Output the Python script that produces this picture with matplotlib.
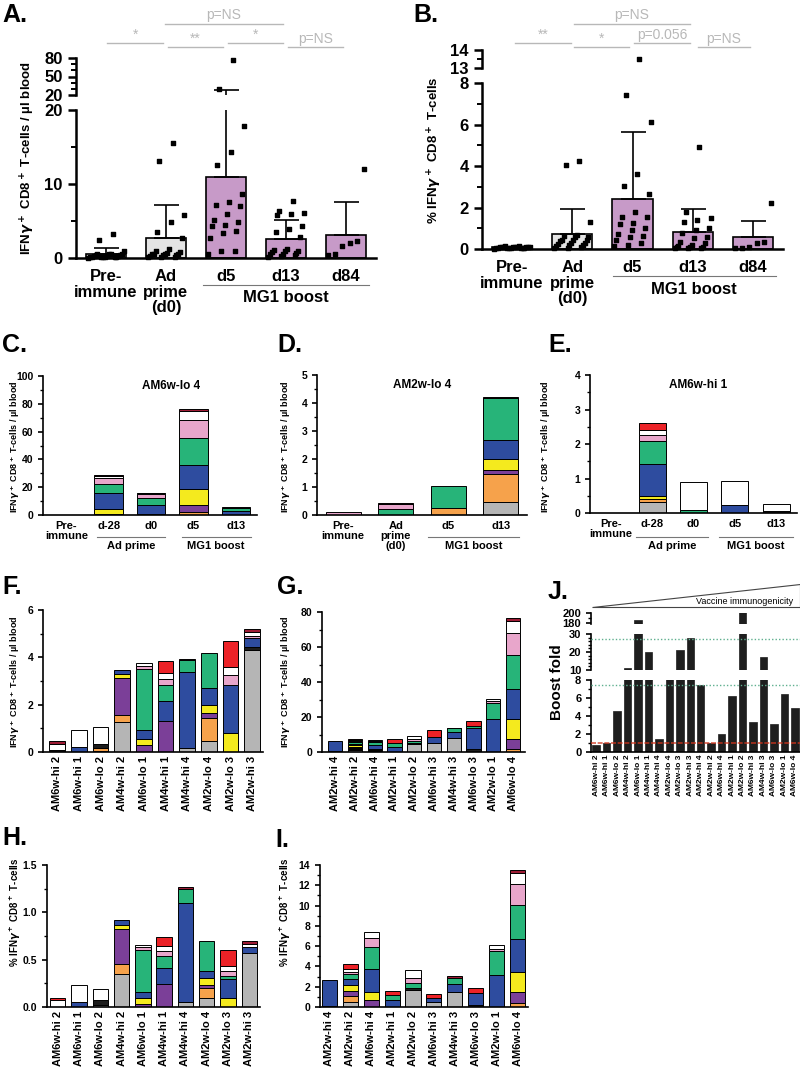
import numpy as np
import matplotlib.pyplot as plt
from matplotlib.ticker import MultipleLocator
from matplotlib.transforms import blended_transform_factory as blend
from matplotlib.patches import Polygon

plt.rcParams['font.family'] = ['Liberation Sans', 'DejaVu Sans']
plt.rcParams['font.weight'] = 'bold'
plt.rcParams['mathtext.fontset'] = 'dejavusans'

# ---------------- data: panels A / B ----------------
ab_groups = ['Pre-\nimmune', 'Ad\nprime\n(d0)', 'd5', 'd13', 'd84']
ab_colors = ['#e4e4e4', '#e4e4e4', '#c79ac8', '#c79ac8', '#c79ac8']

a_mean = [0.5, 2.7, 11.0, 2.6, 3.1]
a_err_top = [1.4, 7.1, 28.5, 5.2, 7.6]
a_pts = [
    [3.3, 2.4, 1.0, 0.6, 0.5, 0.4, 0.3, 0.3, 0.2, 0.2, 0.1, 0.1, 0.05, 0.5, 0.4, 0.2, 0.6, 0.3, 0.1, 0.2],
    [15.5, 13.1, 5.8, 4.8, 3.5, 2.7, 1.2, 1.0, 0.8, 0.7, 0.6, 0.5, 0.4, 0.3, 0.2, 0.1, 0.6, 0.4, 0.2, 0.5],
    [77, 29, 17.8, 14.3, 12.6, 8.7, 7.6, 7.1, 7.0, 6.0, 5.1, 4.8, 4.4, 4.3, 3.7, 3.4, 2.7, 1.0, 0.9, 0.5],
    [7.7, 6.3, 6.1, 5.9, 5.8, 4.3, 3.9, 3.5, 2.9, 1.2, 1.1, 1.0, 0.9, 0.8, 0.7, 0.6, 0.5, 0.4, 0.3, 0.2],
    [12.0, 2.3, 2.0, 1.6, 0.6, 0.4],
]

b_mean = [0.08, 0.72, 2.4, 0.83, 0.57]
b_err_top = [0.12, 1.93, 5.65, 1.95, 1.37]
b_pts = [
    [0.15, 0.12, 0.1, 0.1, 0.08, 0.07, 0.05, 0.05, 0.04, 0.03, 0.12, 0.15, 0.1, 0.06, 0.02, 0.08, 0.09, 0.05, 0.11, 0.03],
    [4.25, 4.05, 1.3, 0.68, 0.65, 0.6, 0.45, 0.45, 0.45, 0.4, 0.3, 0.25, 0.2, 0.2, 0.15, 0.1, 0.05, 0.05, 0.6, 0.3],
    [13.5, 7.4, 6.1, 3.6, 3.05, 2.65, 1.8, 1.55, 1.55, 1.25, 1.2, 1.0, 0.9, 0.7, 0.65, 0.6, 0.45, 0.3, 0.2, 0.15],
    [4.9, 1.8, 1.5, 1.4, 1.3, 1.0, 0.9, 0.75, 0.6, 0.55, 0.35, 0.3, 0.15, 0.1, 0.1, 0.05, 0.05, 0.05, 0.1, 0.2],
    [2.2, 0.35, 0.3, 0.1, 0.05, 0.05],
]

# ---------------- data: stacked epitope bars ----------------
# rows: gray, orange, black, purple, yellow, blue, green, pink, white, red, dark red
seg_colors = ['#b5b5b5', '#f6a24b', '#1c1c1c', '#7b3f98', '#f4ea1e', '#2e4c9f',
              '#27b479', '#e8a6cb', '#ffffff', '#ec2227', '#9d1c35']

c_labels = ['Pre-\nimmune', 'd-28', 'd0', 'd5', 'd13']
c_seg = [
    [0, 0, 0, 0, 0],
    [0, 1.0, 0, 2.0, 0],
    [0, 0, 1.0, 0, 0],
    [0, 0, 0, 5.5, 0],
    [0, 3.5, 0, 11.5, 0],
    [0, 11.0, 6.0, 17.0, 3.0],
    [0, 7.0, 5.5, 19.5, 2.0],
    [0, 4.0, 2.5, 12.5, 1.0],
    [0, 1.5, 0.5, 7.0, 0],
    [0, 0, 0, 0, 0],
    [0, 0.5, 0.5, 1.5, 0],
]

d_labels = ['Pre-\nimmune', 'Ad\nprime\n(d0)', 'd5', 'd13']
d_seg = [
    [0, 0, 0, 0.45],
    [0, 0, 0.25, 1.0],
    [0, 0, 0, 0],
    [0, 0, 0, 0.15],
    [0, 0, 0, 0.4],
    [0, 0, 0, 0.67],
    [0, 0.2, 0.78, 1.5],
    [0.12, 0.2, 0, 0],
    [0, 0, 0, 0],
    [0, 0, 0, 0],
    [0, 0.02, 0, 0.05],
]

e_labels = ['Pre-\nimmune', 'd-28', 'd0', 'd5', 'd13']
e_seg = [
    [0, 0.32, 0, 0, 0],
    [0, 0.1, 0, 0, 0],
    [0, 0, 0, 0, 0.05],
    [0, 0, 0, 0, 0],
    [0, 0.08, 0, 0, 0],
    [0, 0.92, 0, 0.22, 0],
    [0, 0.66, 0.1, 0, 0],
    [0, 0.17, 0, 0, 0],
    [0, 0.17, 0.8, 0.7, 0.22],
    [0, 0.18, 0, 0, 0],
    [0, 0, 0, 0, 0],
]

fh_labels = ['AM6w-hi 2', 'AM6w-hi 1', 'AM6w-lo 2', 'AM4w-hi 2', 'AM6w-lo 1',
             'AM4w-hi 1', 'AM4w-hi 4', 'AM2w-lo 4', 'AM2w-lo 3', 'AM2w-hi 3']
f_seg = [
    [0, 0, 0.05, 1.25, 0, 0, 0.18, 0.45, 0, 4.3],
    [0, 0, 0.12, 0.32, 0, 0, 0, 1.0, 0, 0],
    [0.07, 0, 0.18, 0, 0, 0, 0, 0, 0, 0.12],
    [0, 0, 0, 1.55, 0.28, 1.3, 0, 0.2, 0, 0],
    [0, 0, 0, 0.18, 0.27, 0, 0, 0.35, 0.8, 0],
    [0, 0.22, 0, 0.15, 0.4, 0.85, 3.2, 0.7, 2.05, 0.38],
    [0, 0, 0, 0, 2.55, 0.68, 0.5, 1.5, 0, 0],
    [0, 0, 0, 0, 0.15, 0.27, 0, 0, 0.4, 0.12],
    [0.28, 0.7, 0.72, 0, 0.12, 0.25, 0, 0, 0.33, 0.13],
    [0, 0, 0, 0, 0, 0.5, 0, 0, 1.12, 0],
    [0.13, 0, 0, 0, 0, 0, 0.05, 0, 0, 0.15],
]
h_seg = [
    [0, 0, 0.02, 0.35, 0, 0, 0.05, 0.09, 0, 0.57],
    [0, 0, 0, 0.1, 0, 0, 0, 0.11, 0, 0],
    [0, 0, 0.05, 0, 0, 0, 0, 0, 0, 0],
    [0, 0, 0, 0.37, 0.03, 0.24, 0, 0.03, 0, 0],
    [0, 0, 0, 0.05, 0.06, 0, 0, 0.08, 0.1, 0],
    [0, 0.05, 0, 0.05, 0.07, 0.17, 1.05, 0.07, 0.2, 0.06],
    [0, 0, 0, 0, 0.44, 0.13, 0.15, 0.32, 0.03, 0],
    [0, 0, 0, 0, 0.03, 0.05, 0, 0, 0.05, 0],
    [0.07, 0.18, 0.12, 0, 0.03, 0.05, 0, 0, 0.05, 0.04],
    [0.03, 0, 0, 0, 0, 0.1, 0, 0, 0.17, 0],
    [0, 0, 0, 0, 0, 0, 0.02, 0, 0, 0.03],
]

gi_labels = ['AM2w-hi 4', 'AM2w-hi 2', 'AM6w-hi 4', 'AM2w-hi 1', 'AM2w-lo 2',
             'AM6w-hi 3', 'AM4w-hi 3', 'AM6w-lo 3', 'AM2w-lo 1', 'AM6w-lo 4']
g_seg = [
    [0, 1.0, 0, 0, 4.5, 5.0, 8.0, 0, 0, 0],
    [0, 0.8, 0, 0, 0, 0, 0, 0, 0, 2.0],
    [0.3, 0.5, 0.5, 0, 0.5, 0, 0, 1.5, 0, 0],
    [0, 0.7, 0.7, 0, 0, 0, 0, 0, 0, 5.5],
    [0, 0.8, 0.6, 0, 0, 0, 0, 0, 0, 11.5],
    [5.7, 1.0, 2.3, 3.0, 0, 3.5, 3.5, 12.5, 19.0, 17.0],
    [0, 0.8, 1.5, 2.0, 1.5, 0, 2.0, 1.0, 9.0, 19.5],
    [0, 0.6, 0.7, 0, 1.2, 0, 0, 0, 1.0, 12.5],
    [0, 0.4, 0.5, 0, 1.2, 0, 0, 0, 1.5, 7.0],
    [0, 0.6, 0, 2.5, 0, 4.0, 0, 3.0, 0, 0],
    [0, 0, 0, 0, 0, 0, 0.5, 0, 0, 1.5],
]
i_seg = [
    [0, 0.5, 0, 0, 1.7, 0.45, 1.45, 0, 0, 0],
    [0, 0.6, 0, 0, 0, 0, 0, 0, 0, 0.35],
    [0.1, 0, 0, 0, 0.2, 0, 0, 0.2, 0, 0],
    [0, 0.45, 0.7, 0, 0, 0, 0, 0, 0, 1.15],
    [0, 0.6, 0.8, 0, 0, 0, 0, 0, 0, 2.0],
    [2.55, 0.6, 2.2, 0.7, 0, 0.45, 0.8, 1.2, 3.15, 3.25],
    [0, 0.5, 2.2, 0.5, 0.5, 0, 0.6, 0, 2.4, 3.3],
    [0, 0.25, 0.95, 0, 0.5, 0, 0, 0, 0.15, 2.1],
    [0, 0.25, 0.55, 0, 0.75, 0, 0, 0, 0.45, 1.1],
    [0, 0.5, 0, 0.35, 0, 0.4, 0, 0.45, 0, 0],
    [0, 0, 0, 0, 0, 0, 0.2, 0, 0, 0.3],
]

# ---------------- data: panel J ----------------
j_labels = ['AM6w-hi 2', 'AM6w-hi 1', 'AM6w-lo 2', 'AM4w-hi 2', 'AM6w-lo 1',
            'AM4w-hi 1', 'AM4w-hi 4', 'AM2w-lo 4', 'AM2w-lo 3', 'AM2w-hi 3',
            'AM2w-hi 4', 'AM2w-hi 2', 'AM6w-hi 4', 'AM2w-hi 1', 'AM2w-lo 2',
            'AM6w-hi 3', 'AM4w-hi 3', 'AM6w-lo 3', 'AM2w-lo 1', 'AM6w-lo 4']
j_fold = [0.8, 1.0, 4.6, 11.0, 185, 20.0, 1.5, 9.0, 21.0, 28.0,
          7.4, 1.0, 2.05, 6.2, 205, 3.3, 17.5, 3.1, 6.4, 4.9]
j_green_lines = [27.0, 7.4]
j_red_line = 1.0

ylab_abs = r'IFN$\gamma^+$ CD8$^+$ T-cells / µl blood'
ylab_pct = r'% IFN$\gamma^+$ CD8$^+$ T-cells'

# ---------------- layout helpers ----------------
W, H = 800, 1071
fig = plt.figure(figsize=(W / 100, H / 100), dpi=100)


def box(l, t, r, b):
    return [l / W, 1 - b / H, (r - l) / W, (b - t) / H]


def fy(py):
    return 1 - py / H


def style(ax, lw=1.2, fs=7.5):
    for s in ['top', 'right']:
        ax.spines[s].set_visible(False)
    for s in ['left', 'bottom']:
        ax.spines[s].set_linewidth(lw)
    ax.tick_params(labelsize=fs, width=lw, length=3.5)
    ax.tick_params(which='minor', width=lw * 0.8, length=2)


def stacked(ax, seg, width):
    n = len(seg[0])
    x = np.arange(n)
    base = np.zeros(n)
    for vals, col in zip(seg, seg_colors):
        v = np.asarray(vals, float)
        m = v > 0
        ax.bar(x[m], v[m], width, bottom=base[m], color=col,
               edgecolor='black', linewidth=0.7)
        base += v
    return x


def group_line(ax, x0, x1, ly, ty, text, fs):
    tr = blend(ax.transData, fig.transFigure)
    ax.plot([x0, x1], [fy(ly), fy(ly)], color='#777777', lw=0.8,
            transform=tr, clip_on=False)
    ax.text((x0 + x1) / 2, fy(ty), text, transform=tr, ha='center',
            va='center', fontsize=fs)


def sig(ax, x0, x1, ly, text):
    tr = blend(ax.transData, fig.transFigure)
    ax.plot([x0, x1], [fy(ly), fy(ly)], color='#b8b8b8', lw=1.0,
            transform=tr, clip_on=False)
    ax.text((x0 + x1) / 2, fy(ly - 1.5), text, transform=tr, ha='center',
            va='bottom', fontsize=10, color='#b8b8b8', fontweight='normal')


def spread(vals, w=0.3):
    n = len(vals)
    order = np.argsort(vals)
    off = np.zeros(n)
    for k, idx in enumerate(order):
        off[idx] = w * (((k * 7) % n) / max(n - 1, 1) * 2 - 1)
    return off


def dot_panel(ax_lo, ax_hi, means, err_top, pts, lo_max, hi_min):
    x = np.arange(len(means))
    for ax in (ax_lo, ax_hi):
        ax.bar(x, means, 0.67, color=ab_colors, edgecolor='black', linewidth=1.2)
        ax.errorbar(x, means, yerr=[np.zeros(len(means)), np.array(err_top) - np.array(means)],
                    fmt='none', ecolor='black', elinewidth=1.2, capsize=9, capthick=1.2)
        ax.set_xlim(-0.5, 4.5)
    for i, vals in enumerate(pts):
        v = np.asarray(vals, float)
        xo = i + spread(v)
        lo = v <= lo_max * 1.02
        hi = v >= hi_min
        ax_lo.scatter(xo[lo], v[lo], marker='s', s=8, color='black', zorder=5, clip_on=False)
        ax_hi.scatter(xo[hi], v[hi], marker='s', s=8, color='black', zorder=5, clip_on=False)
    for s in ['top', 'right']:
        ax_lo.spines[s].set_visible(False)
    for s in ['top', 'right', 'bottom']:
        ax_hi.spines[s].set_visible(False)
    for ax in (ax_lo, ax_hi):
        ax.spines['left'].set_linewidth(1.8)
        ax.tick_params(labelsize=12, width=1.8, length=6)
        ax.tick_params(which='minor', width=1.4, length=3.5)
    ax_lo.spines['bottom'].set_linewidth(1.8)
    ax_hi.set_xticks([])
    ax_lo.set_xticks(x, ab_groups, fontsize=12, linespacing=1.05)
    ax_lo.tick_params(axis='x', length=0, pad=8)


# ---------------- panel A ----------------
axA = fig.add_axes(box(76, 110, 376, 258))
axA2 = fig.add_axes(box(76, 58, 376, 95))
axA.set_ylim(0, 20)
axA2.set_ylim(20, 80)
dot_panel(axA, axA2, a_mean, a_err_top, a_pts, 20, 20)
axA.set_yticks([0, 10, 20])
axA.yaxis.set_minor_locator(MultipleLocator(5))
axA2.set_yticks([20, 50, 80])
axA2.yaxis.set_minor_locator(MultipleLocator(10))
group_line(axA, 1.62, 4.38, 285, 298, 'MG1 boost', 12)
sig(axA, 0.02, 0.95, 43, '*')
sig(axA, 1.03, 1.95, 47, '**')
sig(axA, 2.03, 2.95, 43, '*')
sig(axA, 3.03, 3.95, 47, 'p=NS')
sig(axA, 0.98, 2.95, 24, 'p=NS')
fig.text(28 / W, fy(158), ylab_abs, rotation=90, ha='center', va='center', fontsize=9.5)

# ---------------- panel B ----------------
axB = fig.add_axes(box(482, 83, 783, 249))
axB2 = fig.add_axes(box(482, 50, 783, 68))
axB.set_ylim(0, 8)
axB2.set_ylim(13, 14)
dot_panel(axB, axB2, b_mean, b_err_top, b_pts, 8, 13)
axB.set_yticks([0, 2, 4, 6, 8])
axB.yaxis.set_minor_locator(MultipleLocator(1))
axB2.set_yticks([13, 14])
axB2.yaxis.set_minor_locator(MultipleLocator(0.5))
group_line(axB, 1.67, 4.38, 276, 290, 'MG1 boost', 12)
sig(axB, 0.05, 0.98, 43, '**')
sig(axB, 1.03, 1.95, 47, '*')
sig(axB, 2.03, 2.95, 43, 'p=0.056')
sig(axB, 3.08, 3.95, 47, 'p=NS')
sig(axB, 1.03, 2.95, 24, 'p=NS')
fig.text(435 / W, fy(150), ylab_pct, rotation=90, ha='center', va='center', fontsize=9.5)

# ---------------- panels C, D, E ----------------
axC = fig.add_axes(box(43, 376, 257, 515))
stacked(axC, c_seg, 0.67)
axC.set_xlim(-0.55, 4.5)
axC.set_ylim(0, 100)
axC.yaxis.set_major_locator(MultipleLocator(20))
axC.yaxis.set_minor_locator(MultipleLocator(10))
axC.text(0.6, 0.93, 'AM6w-lo 4', transform=axC.transAxes, ha='center', va='center', fontsize=8.5)
group_line(axC, 0.72, 2.32, 537, 546, 'Ad prime', 8)
group_line(axC, 2.72, 4.35, 537, 546, 'MG1 boost', 8)

axD = fig.add_axes(box(317, 375, 527, 515))
stacked(axD, d_seg, 0.67)
axD.set_xlim(-0.5, 3.5)
axD.set_ylim(0, 5)
axD.yaxis.set_major_locator(MultipleLocator(1))
axD.yaxis.set_minor_locator(MultipleLocator(0.5))
axD.text(0.5, 0.93, 'AM2w-lo 4', transform=axD.transAxes, ha='center', va='center', fontsize=8.5)
group_line(axD, 1.62, 3.35, 537, 546, 'MG1 boost', 8)

axE = fig.add_axes(box(590, 375, 797, 513))
stacked(axE, e_seg, 0.65)
axE.set_xlim(-0.5, 4.5)
axE.set_ylim(0, 4)
axE.yaxis.set_major_locator(MultipleLocator(1))
axE.yaxis.set_minor_locator(MultipleLocator(0.5))
axE.text(0.52, 0.93, 'AM6w-hi 1', transform=axE.transAxes, ha='center', va='center', fontsize=8.5)
group_line(axE, 0.62, 2.35, 537, 546, 'Ad prime', 8)
group_line(axE, 2.62, 4.4, 537, 546, 'MG1 boost', 8)

for ax, labs in ((axC, c_labels), (axD, d_labels), (axE, e_labels)):
    style(ax)
    ax.set_xticks(range(len(labs)), labs, fontsize=8, linespacing=1.0)
    ax.tick_params(axis='x', length=0, pad=4)

fig.text(15 / W, fy(447), ylab_abs, rotation=90, ha='center', va='center', fontsize=6.5)
fig.text(286 / W, fy(447), ylab_abs, rotation=90, ha='center', va='center', fontsize=6.5)
fig.text(546 / W, fy(447), ylab_abs, rotation=90, ha='center', va='center', fontsize=6.5)

# ---------------- panels F, G, H, I ----------------
axF = fig.add_axes(box(43, 610, 263, 752))
stacked(axF, f_seg, 0.72)
axF.set_xlim(-0.66, 9.5)
axF.set_ylim(0, 6)
axF.yaxis.set_major_locator(MultipleLocator(2))
axF.yaxis.set_minor_locator(MultipleLocator(1))

axG = fig.add_axes(box(322, 612, 525, 752))
stacked(axG, g_seg, 0.72)
axG.set_xlim(-0.66, 9.6)
axG.set_ylim(0, 80)
axG.yaxis.set_major_locator(MultipleLocator(20))
axG.yaxis.set_minor_locator(MultipleLocator(10))

axH = fig.add_axes(box(47, 865, 260, 1007))
stacked(axH, h_seg, 0.72)
axH.set_xlim(-0.5, 9.5)
axH.set_ylim(0, 1.5)
axH.yaxis.set_major_locator(MultipleLocator(0.5))
axH.yaxis.set_minor_locator(MultipleLocator(0.25))
axH.yaxis.set_major_formatter('{x:.1f}')

axI = fig.add_axes(box(320, 865, 528, 1007))
stacked(axI, i_seg, 0.72)
axI.set_xlim(-0.45, 9.5)
axI.set_ylim(0, 14)
axI.yaxis.set_major_locator(MultipleLocator(2))
axI.yaxis.set_minor_locator(MultipleLocator(1))

for ax, labs in ((axF, fh_labels), (axG, gi_labels), (axH, fh_labels), (axI, gi_labels)):
    style(ax)
    ax.set_xticks(range(len(labs)), labs, rotation=90, fontsize=8)
    ax.tick_params(axis='x', length=0, pad=3)

fig.text(15 / W, fy(682), ylab_abs, rotation=90, ha='center', va='center', fontsize=6.5)
fig.text(286 / W, fy(682), ylab_abs, rotation=90, ha='center', va='center', fontsize=6.5)
fig.text(15 / W, fy(912), ylab_pct, rotation=90, ha='center', va='center', fontsize=7)
fig.text(285 / W, fy(912), ylab_pct, rotation=90, ha='center', va='center', fontsize=7)

# ---------------- panel J ----------------
axJ = fig.add_axes(box(591, 680, 800, 752))
axJ2 = fig.add_axes(box(591, 634, 800, 670))
axJ3 = fig.add_axes(box(591, 612.7, 800, 624))
xj = np.arange(len(j_fold))
for ax, lim in ((axJ, (0, 8)), (axJ2, (10, 30)), (axJ3, (177, 200))):
    ax.bar(xj, j_fold, 0.72, color='#1e1e1e', edgecolor='#1e1e1e', linewidth=0.5)
    ax.set_ylim(*lim)
    ax.set_xlim(-0.5, 19.5)
    for s in ['top', 'right']:
        ax.spines[s].set_visible(False)
    ax.spines['left'].set_linewidth(1.2)
    ax.tick_params(labelsize=8, width=1.2, length=3.5)
    ax.tick_params(which='minor', width=1.0, length=2)
for ax in (axJ2, axJ3):
    ax.spines['bottom'].set_visible(False)
    ax.set_xticks([])
axJ.spines['bottom'].set_linewidth(1.2)
axJ.set_yticks([0, 2, 4, 6, 8])
axJ.yaxis.set_minor_locator(MultipleLocator(1))
axJ2.set_yticks([10, 20, 30])
axJ2.yaxis.set_minor_locator(MultipleLocator(2))
axJ3.set_yticks([180, 200])
axJ3.yaxis.set_minor_locator(MultipleLocator(10))
axJ.set_xticks(xj, j_labels, rotation=90, fontsize=6)
axJ.tick_params(axis='x', length=0, pad=2)
axJ.axhline(j_red_line, color='#d0341c', lw=1.2, ls=(0, (3, 1)), alpha=0.8, zorder=5)
axJ.axhline(j_green_lines[1], color='#5fb08f', lw=1.0, ls=(0, (1, 1.5)), zorder=5)
axJ2.axhline(j_green_lines[0], color='#5fb08f', lw=1.0, ls=(0, (1, 1.5)), zorder=5)
fig.text(557 / W, fy(682), 'Boost fold', rotation=90, ha='center', va='center', fontsize=11)

tri = Polygon([[592 / W, fy(607)], [800 / W, fy(607)], [800 / W, fy(584)]],
              closed=True, facecolor='white', edgecolor='#444444', lw=0.8,
              transform=fig.transFigure)
fig.patches.append(tri)
fig.text(793 / W, fy(601), 'Vaccine immunogenicity', ha='right', va='center',
         fontsize=6.5, fontweight='normal')

# ---------------- panel letters ----------------
for lab, px, py in [('A.', 2, 3), ('B.', 413, 3), ('C.', 2, 333), ('D.', 277, 333),
                    ('E.', 548, 333), ('F.', 2, 575), ('G.', 277, 575), ('J.', 548, 580),
                    ('H.', 2, 826), ('I.', 275, 828)]:
    fig.text(px / W, fy(py), lab, ha='left', va='top', fontsize=18, fontweight='bold')

fig.savefig('out.png', dpi=100, facecolor='white')
